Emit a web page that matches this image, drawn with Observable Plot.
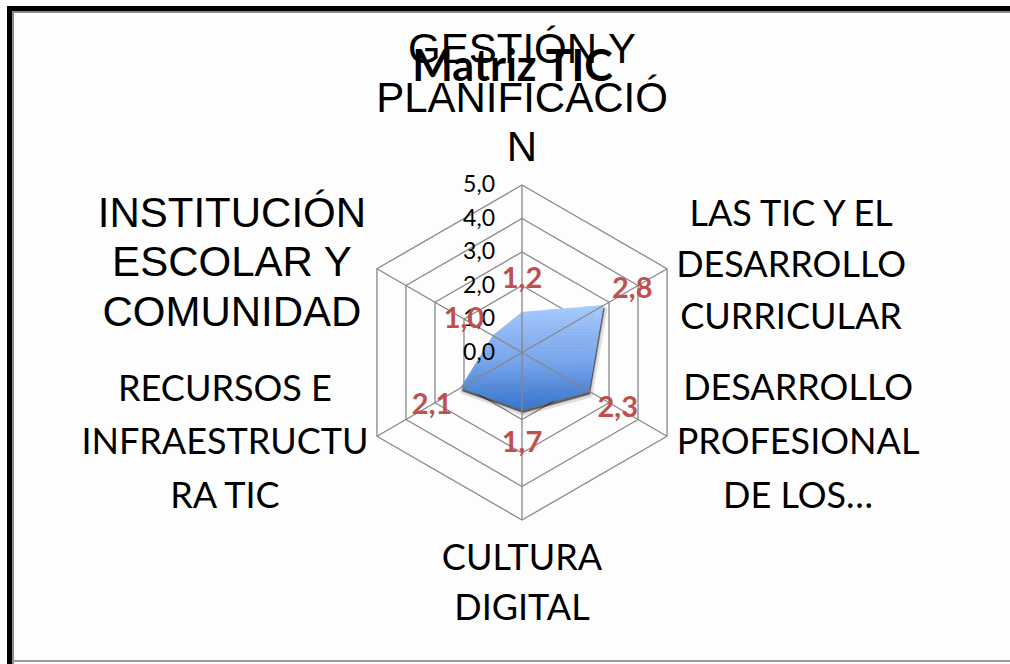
<!DOCTYPE html>
<html>
<head>
<meta charset="utf-8">
<script src="https://cdn.jsdelivr.net/npm/d3@7"></script>
<script src="https://cdn.jsdelivr.net/npm/@observablehq/plot@0.6"></script>
<style>
  html, body { margin: 0; padding: 0; background: #ffffff; }
  #wrap { position: relative; width: 1010px; height: 664px; overflow: hidden; background: #fdfdfd; }
  #frameTop { position: absolute; left: 7px; top: 6px; width: 1010px; height: 5px; background: #000; }
  #frameTop2 { position: absolute; left: 12px; top: 11px; width: 1000px; height: 2px; background: #8a8a8a; }
  #frameLeft { position: absolute; left: 7px; top: 6px; width: 5px; height: 664px; background: #000; }
  #frameLeft2 { position: absolute; left: 12px; top: 11px; width: 2px; height: 664px; background: #8a8a8a; }
  #frameBottom { position: absolute; left: 12px; top: 660px; width: 1000px; height: 2px; background: #9a9a9a; }
  #chart { position: absolute; left: 0; top: 0; }
</style>
</head>
<body>
<div id="wrap">
  <div id="chart"></div>
  <div id="frameTop"></div>
  <div id="frameTop2"></div>
  <div id="frameLeft"></div>
  <div id="frameLeft2"></div>
  <div id="frameBottom"></div>
</div>
<script>
// ---- data ----
const title = "Matriz TIC";
const categories = [
  "GESTIÓN Y\nPLANIFICACIÓ\nN",
  "LAS TIC Y EL\nDESARROLLO\nCURRICULAR",
  "DESARROLLO\nPROFESIONAL\nDE LOS…",
  "CULTURA\nDIGITAL",
  "RECURSOS E\nINFRAESTRUCTU\nRA TIC",
  "INSTITUCIÓN\nESCOLAR Y\nCOMUNIDAD"
];
const values = [1.2, 2.8, 2.3, 1.7, 2.1, 1.0];
const valueLabels = ["1,2", "2,8", "2,3", "1,7", "2,1", "1,0"];
const ticks = [0, 1, 2, 3, 4, 5];
const tickLabels = ["0,0", "1,0", "2,0", "3,0", "4,0", "5,0"];

// ---- layout (not data) ----
const W = 1010, H = 664;
const cx = 521.5, cy = 352, unit = 33.5;
const labelLayout = [
  {dx: 0,    dy: -89, font: "Liberation Sans, Arial, sans-serif", size: 42, lh: 1.17},
  {dx: 124,  dy: -8,  font: "Lato, sans-serif", size: 36, lh: 1.44},
  {dx: 131,  dy: 0,   font: "Lato, sans-serif", size: 36, lh: 1.5},
  {dx: 0,    dy: 59,  font: "Lato, sans-serif", size: 36, lh: 1.4},
  {dx: -152, dy: 1,   font: "Lato, sans-serif", size: 36, lh: 1.48},
  {dx: -145, dy: -8,  font: "Liberation Sans, Arial, sans-serif", size: 42, lh: 1.17}
];
const gradTop = "#a8cbff", gradMid = "#78a6ec", gradBottom = "#3876cf";
const nBands = 70;

const n = categories.length;
const ang = i => (i * 2 * Math.PI) / n;
const px = (r, i) => r * Math.sin(ang(i));
const py = (r, i) => r * Math.cos(ang(i));
const maxR = d3.max(ticks);

const ringRows = ticks.filter(t => t > 0).flatMap(t => categories.map((c, i) => ({ring: t, x: px(t, i), y: py(t, i)})));
const spokes = categories.map((c, i) => ({x1: 0, y1: 0, x2: px(maxR, i), y2: py(maxR, i)}));
const series = values.map((v, i) => ({x: px(v, i), y: py(v, i), v, label: valueLabels[i]}));
const valueLabelRows = values.map((v, i) => ({x: px(v + 1, i), y: py(v + 1, i), label: valueLabels[i]}));
const tickRows = ticks.map((t, i) => ({x: 0, y: t, label: tickLabels[i]}));
const catRows = categories.map((c, i) => ({x: px(maxR, i), y: py(maxR, i), label: c, ...labelLayout[i]}));

// vertical gradient of the radar area: split the data polygon into horizontal slabs
function clipHalf(poly, keep, yEdge) {
  const out = [];
  for (let k = 0; k < poly.length; k++) {
    const a = poly[k], b = poly[(k + 1) % poly.length];
    const ia = keep(a.y), ib = keep(b.y);
    if (ia) out.push(a);
    if (ia !== ib) {
      const t = (yEdge - a.y) / (b.y - a.y);
      out.push({x: a.x + t * (b.x - a.x), y: yEdge});
    }
  }
  return out;
}
const yMax = d3.max(series, d => d.y), yMin = d3.min(series, d => d.y);
const colorAt = d3.scaleLinear().domain([0, 0.55, 1]).range([gradTop, gradMid, gradBottom]).interpolate(d3.interpolateRgb);
const bandMarks = d3.range(nBands).map(k => {
  const y1 = yMax - (k / nBands) * (yMax - yMin);
  const y0 = yMax - ((k + 1) / nBands) * (yMax - yMin);
  let poly = clipHalf(series, y => y <= y1, y1);
  poly = clipHalf(poly, y => y >= y0, y0);
  const c = colorAt((k + 0.5) / nBands);
  return Plot.line(poly, {x: "x", y: "y", curve: "linear-closed", fill: c, stroke: c, strokeWidth: 0.8});
});

const catMarks = catRows.map(d => Plot.text([d], {
  x: "x", y: "y", text: "label", dx: d.dx, dy: d.dy,
  fontFamily: d.font, fontSize: d.size, lineHeight: d.lh, fill: "#000",
  textAnchor: "middle"
}));

const plot = Plot.plot({
  width: W, height: H,
  marginTop: 0, marginRight: 0, marginBottom: 0, marginLeft: 0,
  style: {background: "transparent", overflow: "visible"},
  x: {domain: [-cx / unit, (W - cx) / unit], range: [0, W], axis: null},
  y: {domain: [-(H - cy) / unit, cy / unit], range: [H, 0], axis: null},
  marks: [
    Plot.line(ringRows, {x: "x", y: "y", z: "ring", curve: "linear-closed", stroke: "#878787", strokeWidth: 1.3}),
    // soft shadow
    Plot.line(series, {x: "x", y: "y", curve: "linear-closed", fill: "#000", fillOpacity: 0.12, stroke: "#000", strokeOpacity: 0.12, strokeWidth: 5, dx: 1.5, dy: 4}),
    Plot.line(series, {x: "x", y: "y", curve: "linear-closed", fill: "#000", fillOpacity: 0.5, stroke: "#000", strokeOpacity: 0.2, strokeWidth: 1.5, dx: 1, dy: 3}),
    // radar area (gradient slabs)
    ...bandMarks,
    Plot.link(spokes, {x1: "x1", y1: "y1", x2: "x2", y2: "y2", stroke: "#878787", strokeWidth: 1.3}),
    Plot.text(tickRows, {x: "x", y: "y", text: "label", textAnchor: "end", dx: -27, fontFamily: "Lato, sans-serif", fontSize: 23, fill: "#000"}),
    Plot.text(valueLabelRows, {x: "x", y: "y", text: "label", fontFamily: "Lato, sans-serif", fontWeight: "bold", fontSize: 29, fill: "#C0504D"}),
    ...catMarks,
    Plot.text([title], {frameAnchor: "top", dx: 7, dy: 50, text: d => d, fontFamily: "Lato, sans-serif", fontWeight: "bold", fontSize: 43, fill: "#000"})
  ]
});

document.getElementById("chart").appendChild(plot);
</script>
</body>
</html>
